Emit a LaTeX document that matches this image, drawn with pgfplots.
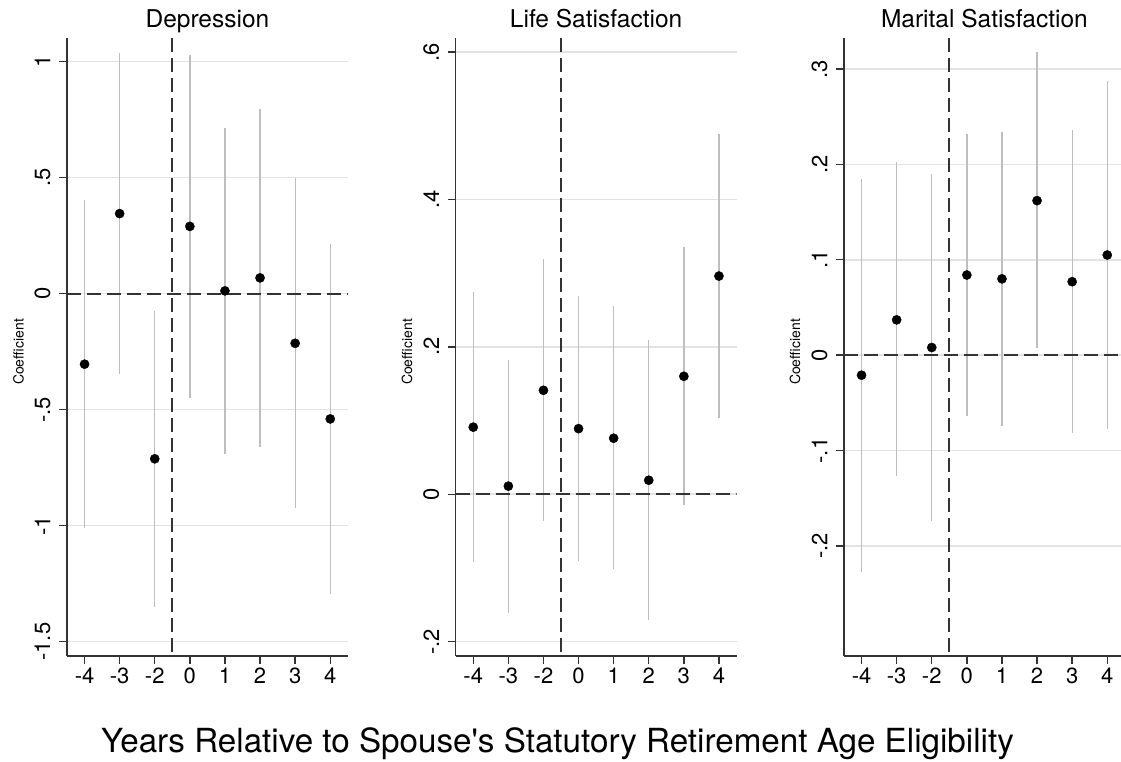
\documentclass[border=0pt]{standalone}
\usepackage{pgfplots}
\pgfplotsset{compat=1.18}
\usepackage{pgfplotstable}
\usepackage{fontspec}
\setmainfont{TeX Gyre Heros}
\definecolor{cigray}{HTML}{BEBEBE}
\definecolor{gridgray}{HTML}{E3E3E3}
\definecolor{dashgray}{HTML}{333333}

\pgfplotstableread{
x y lo hi
0 -0.304 -1.011 0.403
1 0.345 -0.347 1.039
2 -0.712 -1.349 -0.075
3 0.290 -0.448 1.029
4 0.012 -0.691 0.714
5 0.068 -0.659 0.796
6 -0.214 -0.925 0.499
7 -0.540 -1.296 0.216
}\depr
\pgfplotstableread{
x y lo hi
0 0.091 -0.092 0.275
1 0.011 -0.161 0.182
2 0.141 -0.036 0.319
3 0.089 -0.090 0.269
4 0.076 -0.101 0.255
5 0.019 -0.171 0.209
6 0.160 -0.015 0.335
7 0.296 0.103 0.489
}\life
\pgfplotstableread{
x y lo hi
0 -0.021 -0.227 0.185
1 0.037 -0.127 0.202
2 0.008 -0.174 0.190
3 0.084 -0.064 0.232
4 0.080 -0.074 0.234
5 0.162 0.008 0.318
6 0.077 -0.082 0.236
7 0.105 -0.077 0.287
}\marital

\pgfplotsset{
  panel/.style={
    scale only axis, width=280.8pt, height=618pt, anchor=south west,
    xmin=-0.5, xmax=7.5, xtick={0,...,7}, xticklabels={-4,-3,-2,0,1,2,3,4},
    axis x line*=bottom, axis y line*=left,
    axis line style={-, draw=dashgray, line width=1.4pt},
    tick style={draw=dashgray, line width=1.4pt},
    major tick length=8pt, tick align=outside,
    ymajorgrids, grid style={draw=gridgray, line width=1.6pt},
    ticklabel style={font=\fontsize{22}{22}\selectfont},
    yticklabel style={rotate=90, anchor=south},
    yticklabel shift=5pt,
  },
  cis/.style={draw=none, mark=none, forget plot,
    error bars/.cd, y dir=both, y explicit, error mark=none,
    error bar style={draw=cigray, line width=1.3pt, solid}},
  dots/.style={only marks, mark=*, mark size=4.6pt, mark options={fill=black, draw=black}},
  refl/.style={draw=dashgray, line width=1.8pt, dash pattern=on 14pt off 6pt, forget plot},
}

\begin{document}
\begin{tikzpicture}
\useasboundingbox (0pt,0pt) rectangle (1121pt,-762pt);
\clip (0pt,0pt) rectangle (1121pt,-762pt);

% Panel 1
\begin{axis}[panel, at={(67pt,-656pt)}, ymin=-1.562, ymax=1.102,
  ytick={-1.5,-1,-0.5,0,0.5,1}, yticklabels={-1.5,-1,-.5,0,.5,1}]
\addplot[cis] table[x=x, y=y, y error plus expr=\thisrow{hi}-\thisrow{y}, y error minus expr=\thisrow{y}-\thisrow{lo}] {\depr};
\addplot[refl] coordinates {(-0.5,0) (7.5,0)};
\addplot[refl] coordinates {(2.5,1.102) (2.5,-1.562)};
\addplot[dots] table[x=x, y=y] {\depr};
\end{axis}

% Panel 2
\begin{axis}[panel, at={(455.7pt,-656pt)}, ymin=-0.2195, ymax=0.619,
  ytick={-0.2,0,0.2,0.4,0.6}, yticklabels={-.2,0,.2,.4,.6}]
\addplot[cis] table[x=x, y=y, y error plus expr=\thisrow{hi}-\thisrow{y}, y error minus expr=\thisrow{y}-\thisrow{lo}] {\life};
\addplot[refl] coordinates {(-0.5,0) (7.5,0)};
\addplot[refl] coordinates {(2.5,0.619) (2.5,-0.2195)};
\addplot[dots] table[x=x, y=y] {\life};
\end{axis}

% Panel 3
\begin{axis}[panel, at={(844pt,-656pt)}, ymin=-0.3154, ymax=0.3325,
  ytick={-0.2,-0.1,0,0.1,0.2,0.3}, yticklabels={-.2,-.1,0,.1,.2,.3}]
\addplot[cis] table[x=x, y=y, y error plus expr=\thisrow{hi}-\thisrow{y}, y error minus expr=\thisrow{y}-\thisrow{lo}] {\marital};
\addplot[refl] coordinates {(-0.5,0) (7.5,0)};
\addplot[refl] coordinates {(2.5,0.3325) (2.5,-0.3154)};
\addplot[dots] table[x=x, y=y] {\marital};
\end{axis}

\begin{scope}[every node/.style={inner sep=0pt}]
\node[anchor=base, font=\fontsize{24.5}{24.5}\selectfont] at (207.4pt,-28pt) {Depression};
\node[anchor=base, font=\fontsize{24.5}{24.5}\selectfont] at (596.1pt,-28pt) {Life Satisfaction};
\node[anchor=base, font=\fontsize{24.5}{24.5}\selectfont] at (984.4pt,-28pt) {Marital Satisfaction};
\node[rotate=90, font=\fontsize{14}{14}\selectfont] at (18.5pt,-352pt) {Coefficient};
\node[rotate=90, font=\fontsize{14}{14}\selectfont] at (407pt,-352pt) {Coefficient};
\node[rotate=90, font=\fontsize{14}{14}\selectfont] at (795pt,-352pt) {Coefficient};
\node[anchor=base, font=\fontsize{33.2}{33.2}\selectfont] at (557.5pt,-752pt) {Years Relative to Spouse\textquotesingle s Statutory Retirement Age Eligibility};
\end{scope}
\end{tikzpicture}
\end{document}
